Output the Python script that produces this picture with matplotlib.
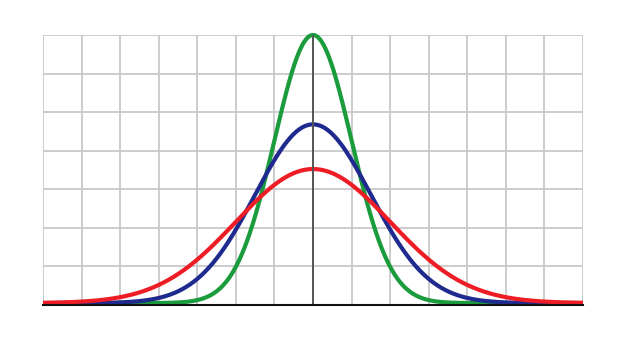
import numpy as np
import matplotlib
matplotlib.use("Agg")
import matplotlib.pyplot as plt

# Normal distribution parameters (grid units)
names = ["narrow", "medium", "wide"]
means = [0.0, 0.0, 0.0]
sigmas = [1.0, 1.5, 2.0]
area = 7.0 * np.sqrt(2 * np.pi)  # peak of narrow curve reaches 7 grid units
colors = ["#1a9b3c", "#1f2a8f", "#ee1c25"]

x_ticks = list(range(-7, 8))
y_ticks = list(range(0, 8))

fig = plt.figure(figsize=(6.26, 3.38), dpi=100)
ax = fig.add_axes([43 / 626, 33 / 338, 540 / 626, 270 / 338])

x = np.linspace(-7, 7, 1000)
for m, s, c in zip(means, sigmas, colors):
    y = area / (s * np.sqrt(2 * np.pi)) * np.exp(-0.5 * ((x - m) / s) ** 2)
    ax.plot(x, y + 0.05 * (1 - y / 7.0), color=c, lw=3, solid_capstyle="butt",
            zorder=3, clip_on=False)

ax.plot([0, 0], [0, 7], color="#555555", lw=1.4, zorder=4)

ax.set_xlim(-7, 7)
ax.set_ylim(0, 7)
ax.set_xticks(x_ticks)
ax.set_yticks(y_ticks)
ax.grid(True, color="#c8c8c8", lw=1.3, zorder=0)
ax.tick_params(length=0, labelbottom=False, labelleft=False)
for side in ["top", "right", "left"]:
    ax.spines[side].set_visible(False)
ax.spines["bottom"].set_color("#111111")
ax.spines["bottom"].set_linewidth(1.5)
ax.spines["bottom"].set_zorder(5)
ax.set_axisbelow(True)
ax.patch.set_visible(False)
for spine in ax.spines.values():
    spine.set_clip_on(False)

fig.savefig("out.png", dpi=100)
